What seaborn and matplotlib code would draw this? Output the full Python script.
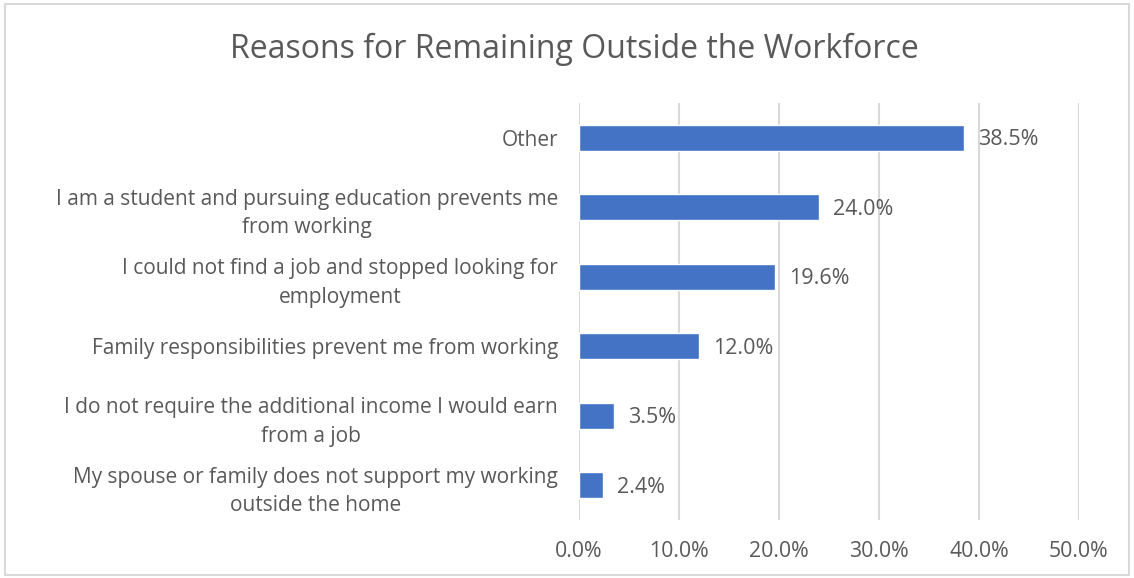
import matplotlib
matplotlib.use("Agg")
import matplotlib.pyplot as plt
import seaborn as sns
import pandas as pd
from matplotlib.patches import Rectangle

categories = [
    "Other",
    "I am a student and pursuing education prevents me\nfrom working",
    "I could not find a job and stopped looking for\nemployment",
    "Family responsibilities prevent me from working",
    "I do not require the additional income I would earn\nfrom a job",
    "My spouse or family does not support my working\noutside the home",
]
values = [38.5, 24.0, 19.6, 12.0, 3.5, 2.4]
xticks = [0, 10, 20, 30, 40, 50]
title = "Reasons for Remaining Outside the Workforce"

df = pd.DataFrame({"reason": categories, "pct": values})

sns.set_theme(style="white")
plt.rcParams["font.family"] = ["Open Sans", "DejaVu Sans"]

grey = "#595959"
fig = plt.figure(figsize=(11.34, 5.78), dpi=100)
ax = fig.add_axes([579/1134, 1 - 520/578, 500/1134, 417/578])

sns.barplot(data=df, x="pct", y="reason", color="#4472C4", width=0.375,
            saturation=1, ax=ax, orient="h")

ax.set_xlim(0, 50)
ax.set_xticks(xticks)
ax.set_xticklabels([f"{t:.1f}%" for t in xticks], color=grey, fontsize=15.3)
ax.tick_params(axis="x", length=0, pad=15)
ax.tick_params(axis="y", length=0, pad=15)
for lbl in ax.get_yticklabels():
    lbl.set_color(grey)
    lbl.set_fontsize(15)
    lbl.set_horizontalalignment("right")
    lbl.set_multialignment("center")
    lbl.set_linespacing(1.48)
ax.set_xlabel("")
ax.set_ylabel("")
ax.grid(axis="x", color="#D9D9D9", linewidth=1.5)
ax.set_axisbelow(True)
for s in ax.spines.values():
    s.set_visible(False)

for i, v in enumerate(values):
    ax.annotate(f"{v:.1f}%", (v, i), xytext=(10, -1.5), textcoords="offset points",
                va="center", ha="left", color=grey, fontsize=15.5)

fig.text(574/1134, 1 - 49/578, title, ha="center", va="center", color=grey, fontsize=23)
fig.patches.append(Rectangle((5/1134, 3/578), 1124/1134, 571/578, transform=fig.transFigure,
                             fill=False, edgecolor="#D9D9D9", linewidth=1.5))

fig.savefig("out.png", dpi=100)
